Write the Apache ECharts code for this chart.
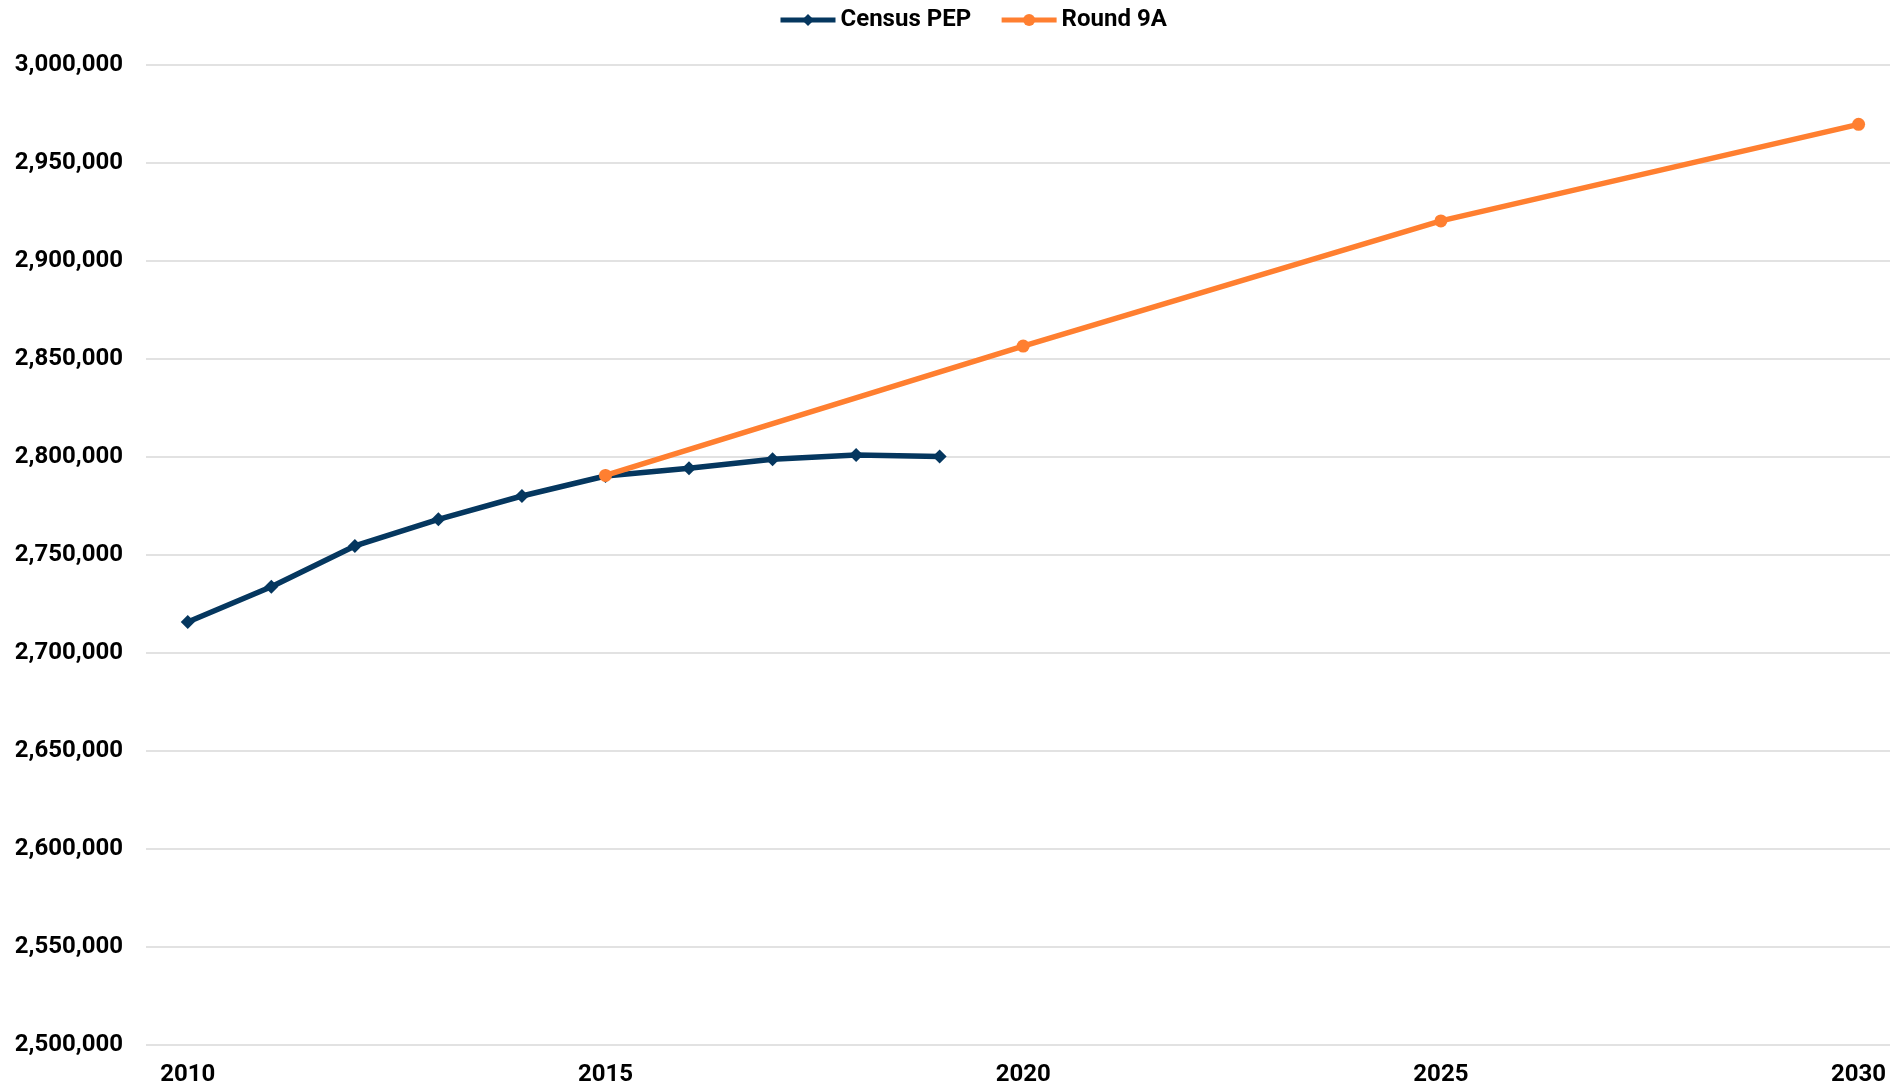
<!DOCTYPE html>
<html>
<head>
<meta charset="utf-8">
<script src="https://cdn.jsdelivr.net/npm/echarts@6/dist/echarts.min.js"></script>
<style>
  html, body { margin: 0; padding: 0; background: #fff; }
  #chart { width: 1890px; height: 1088px; }
</style>
</head>
<body>
<div id="chart"></div>
<script>
// Census Population Estimates Program, 2010–2019
const censusYears = [2010, 2011, 2012, 2013, 2014, 2015, 2016, 2017, 2018, 2019];
const censusPep = [2715700, 2733700, 2754500, 2768100, 2780000, 2790200, 2794100, 2798700, 2800900, 2800200];

// Round 9A forecast points
const round9aYears = [2015, 2020, 2025, 2030];
const round9aValues = [2790500, 2856500, 2920400, 2969700];

// Axis tick labels
const yearTicks = [2010, 2015, 2020, 2025, 2030];
const yMin = 2500000;
const yMax = 3000000;
const yStep = 50000;

const FONT = 'Roboto, "Noto Sans", "Liberation Sans", sans-serif';
const NAVY = '#05375f';
const ORANGE = '#ff7f30';

const labelText = { fontFamily: FONT, fontWeight: 'bold', fontSize: 24, color: '#000' };

const chart = echarts.init(document.getElementById('chart'), null, { renderer: 'canvas' });
chart.setOption({
  animation: false,
  backgroundColor: '#ffffff',
  legend: {
    top: 3,
    left: 773,
    itemWidth: 55,
    itemHeight: 15,
    itemGap: 28,
    lineStyle: { width: 5 },
    textStyle: labelText,
    data: ['Census PEP', 'Round 9A']
  },
  grid: {
    left: 146,
    top: 65,
    right: 0,
    bottom: 43.5,
    containLabel: false
  },
  xAxis: {
    type: 'value',
    // half a year of padding on the left, plot runs off the right edge
    min: 2009.5,
    max: 2030.376,
    axisLine: { show: false },
    axisTick: { show: false },
    splitLine: { show: false },
    axisLabel: Object.assign({
      customValues: yearTicks,
      margin: 18,
      formatter: v => String(v)
    }, labelText)
  },
  yAxis: {
    type: 'value',
    min: yMin,
    max: yMax,
    interval: yStep,
    axisLine: { show: false },
    axisTick: { show: false },
    splitLine: { lineStyle: { color: '#d9d9d9', width: 1.5 } },
    axisLabel: Object.assign({
      margin: 23,
      formatter: v => v.toLocaleString('en-US')
    }, labelText)
  },
  series: [
    {
      name: 'Census PEP',
      type: 'line',
      data: censusYears.map((y, i) => [y, censusPep[i]]),
      symbol: 'diamond',
      symbolSize: 14,
      showSymbol: true,
      lineStyle: { color: NAVY, width: 5.5 },
      itemStyle: { color: NAVY },
      z: 2
    },
    {
      name: 'Round 9A',
      type: 'line',
      data: round9aYears.map((y, i) => [y, round9aValues[i]]),
      symbol: 'circle',
      symbolSize: 13,
      showSymbol: true,
      lineStyle: { color: ORANGE, width: 5.5 },
      itemStyle: { color: ORANGE },
      z: 3
    }
  ]
});
</script>
</body>
</html>
